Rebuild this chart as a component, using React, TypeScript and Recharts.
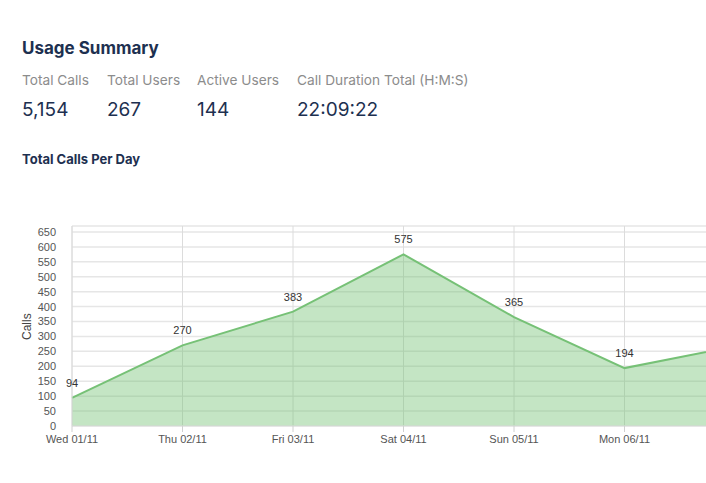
import React from 'react';
import { AreaChart, Area, XAxis, YAxis, CartesianGrid, LabelList } from 'recharts';

const days = ['Wed 01/11', 'Thu 02/11', 'Fri 03/11', 'Sat 04/11', 'Sun 05/11', 'Mon 06/11', 'Tue 07/11'];
const calls = [94, 270, 383, 575, 365, 194, 267];
const yTicks = [0, 50, 100, 150, 200, 250, 300, 350, 400, 450, 500, 550, 600, 650];

const statLabels = ['Total Calls', 'Total Users', 'Active Users', 'Call Duration Total (H:M:S)'];
const statValues = ['5,154', '267', '144', '22:09:22'];
const statX = [22, 107, 197, 297];

const data = days.map((d, i) => ({ day: d, calls: calls[i] }));

const UI_FONT = 'Inter, "Noto Sans", sans-serif';
const CHART_FONT = '"Liberation Sans", Arial, sans-serif';
const NAVY = '#1d3050';

export default function App() {
  return (
    <div style={{ position: 'fixed', left: 0, top: 0, width: 706, height: 483, overflow: 'hidden', background: '#fff' }}>
      <div style={{ position: 'absolute', left: 22, top: 38, fontFamily: UI_FONT, fontWeight: 700, fontSize: 17, color: NAVY }}>
        Usage Summary
      </div>
      {statLabels.map((s, i) => (
        <div key={s}>
          <div style={{ position: 'absolute', left: statX[i], top: 72, fontFamily: UI_FONT, fontSize: 13.7, color: '#8c8c8c', whiteSpace: 'nowrap' }}>
            {s}
          </div>
          <div style={{ position: 'absolute', left: statX[i], top: 98, fontFamily: UI_FONT, fontSize: 19, color: NAVY, whiteSpace: 'nowrap' }}>
            {statValues[i]}
          </div>
        </div>
      ))}
      <div style={{ position: 'absolute', left: 22, top: 151, fontFamily: UI_FONT, fontWeight: 700, fontSize: 13, color: NAVY }}>
        Total Calls Per Day
      </div>
      <div style={{ position: 'absolute', left: 0, top: 0 }}>
        <AreaChart width={745} height={483} data={data} margin={{ top: 226, right: 10, bottom: 27, left: 32 }}>
          <CartesianGrid stroke="#e6e6e6" strokeWidth={1.5} vertical={false} />
          <CartesianGrid stroke="#dcdcdc" strokeWidth={1} horizontal={false} />
          <XAxis
            dataKey="day"
            height={30}
            interval={0}
            tickSize={6}
            tickMargin={3}
            axisLine={{ stroke: '#e0e0e0' }}
            tickLine={{ stroke: '#d0d0d0' }}
            tick={{ fontSize: 11, fill: '#555', fontFamily: CHART_FONT }}
          />
          <YAxis
            width={40}
            domain={[0, 670]}
            ticks={yTicks}
            interval={0}
            tickLine={false}
            tickMargin={10}
            axisLine={{ stroke: '#dcdcdc' }}
            tick={{ fontSize: 11, fill: '#555', fontFamily: CHART_FONT }}
            label={{ value: 'Calls', angle: -90, position: 'insideLeft', offset: -5, dy: 14, style: { fontSize: 12, fill: '#444', fontFamily: CHART_FONT } }}
          />
          <Area
            type="linear"
            dataKey="calls"
            stroke="#76c176"
            strokeWidth={2}
            fill="#72c172"
            fillOpacity={0.42}
            dot={false}
            activeDot={false}
            isAnimationActive={false}
          >
            <LabelList dataKey="calls" position="top" offset={11} style={{ fontSize: 11, fill: '#333', fontFamily: CHART_FONT }} />
          </Area>
        </AreaChart>
      </div>
    </div>
  );
}
